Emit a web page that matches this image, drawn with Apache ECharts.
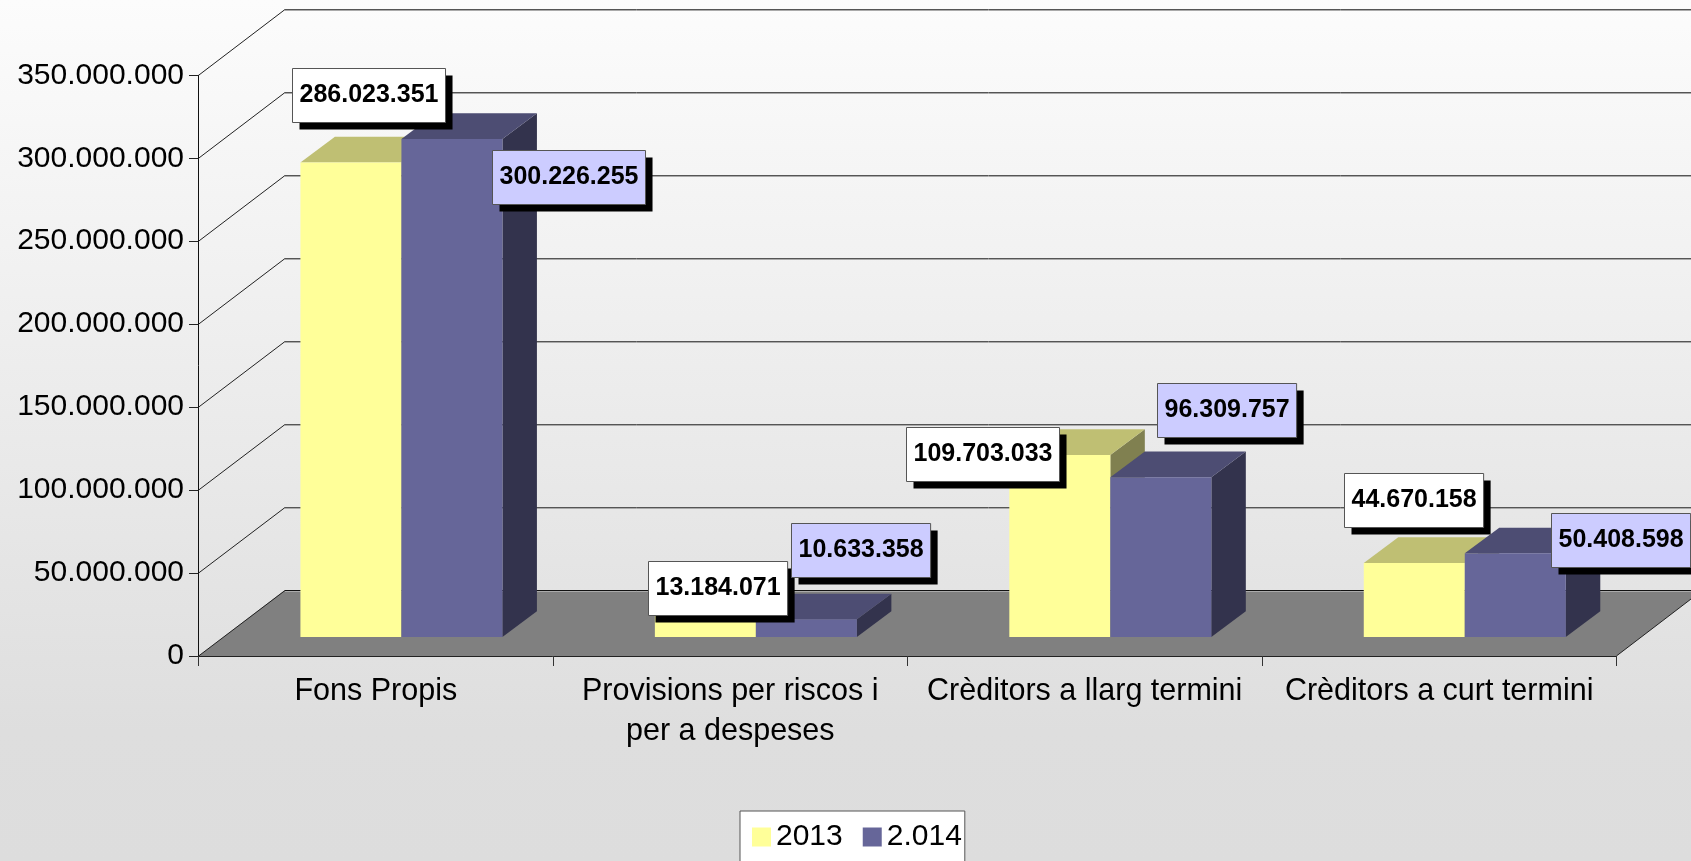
<!DOCTYPE html>
<html>
<head>
<meta charset="utf-8">
<style>html,body{margin:0;padding:0;background:#ddd}#c{width:1691px;height:861px}</style>
<script src="https://cdn.jsdelivr.net/npm/echarts@6/dist/echarts.min.js"></script>
</head>
<body>
<div id="c"></div>
<script>
const categories = ['Fons Propis', 'Provisions per riscos i\nper a despeses', 'Crèditors a llarg termini', 'Crèditors a curt termini'];
const values2013 = [286023351, 13184071, 109703033, 44670158];
const values2014 = [300226255, 10633358, 96309757, 50408598];
const yTicks = [0, 50000000, 100000000, 150000000, 200000000, 250000000, 300000000, 350000000];

// Manual callout placement relative to each bar's top-left front corner
const nudge2013 = [[-8.4, -94.5], [-7, -54.4], [-103.4, -28], [-19.8, -89.9]];
const nudge2014 = [[90.1, 11], [35.2, -96.4], [46.8, -94.5], [86.4, -40.4]];

const FONT = '"Liberation Sans", Arial, sans-serif';
const WALL_DX = 86.4, WALL_DY = 66;
const BAR_SHIFT_X = 25.6, BAR_SHIFT_Y = 19;
const BAR_W = 101, BAR_DX = 34.5, BAR_DY = 25.7;

const fmt = v => String(v).replace(/\B(?=(\d{3})+(?!\d))/g, '.');
const mctx = document.createElement('canvas').getContext('2d');
mctx.font = 'bold 25px ' + FONT;

function barGeom(api, cat, val, slot) {
  const top = api.coord([cat, val]);
  const base = api.coord([cat, 0]);
  const x0 = top[0] + BAR_SHIFT_X + (slot === 0 ? -BAR_W : 0);
  return { x0, x1: x0 + BAR_W, yTop: top[1] - BAR_SHIFT_Y, yBase: base[1] - BAR_SHIFT_Y };
}

function bar3d(colors, slot) {
  return function (params, api) {
    const g = barGeom(api, api.value(0), api.value(1), slot);
    const poly = (points, fill) => ({ type: 'polygon', shape: { points }, style: { fill, stroke: null } });
    return {
      type: 'group',
      children: [
        poly([[g.x1, g.yBase], [g.x1 + BAR_DX, g.yBase - BAR_DY], [g.x1 + BAR_DX, g.yTop - BAR_DY], [g.x1, g.yTop]], colors.side),
        poly([[g.x0, g.yTop], [g.x1, g.yTop], [g.x1 + BAR_DX, g.yTop - BAR_DY], [g.x0 + BAR_DX, g.yTop - BAR_DY]], colors.top),
        { type: 'rect', shape: { x: g.x0, y: g.yTop, width: BAR_W, height: g.yBase - g.yTop }, style: { fill: colors.front } }
      ]
    };
  };
}

function renderWalls(params, api) {
  const cs = params.coordSys;
  const v = api.value(1);
  const y = api.coord([0, v])[1];
  const x = cs.x, xr = cs.x + cs.width;
  const children = [];
  const line = (x1, y1, x2, y2, stroke, lineWidth) => ({
    type: 'line', shape: { x1, y1, x2, y2 }, style: { stroke, lineWidth, fill: null }
  });
  if (v === 0) {
    children.push({
      type: 'polygon',
      shape: { points: [[x, y], [x + WALL_DX, y - WALL_DY], [xr + WALL_DX, y - WALL_DY], [xr, y]] },
      style: { fill: '#808080', stroke: null }
    });
    children.push(line(xr, y, xr + WALL_DX, y - WALL_DY, '#222', 1));
  }
  const by = Math.round(y - WALL_DY) + 0.5;
  children.push(line(x, y, x + WALL_DX, by, '#222', 1));
  children.push(line(x + WALL_DX, by + 1, xr + WALL_DX, by + 1, '#aaa', 1));
  children.push(line(x + WALL_DX, by, xr + WALL_DX, by, v === 0 ? '#111' : '#555', 1));
  return { type: 'group', children };
}

function renderLabels(params, api) {
  const slot = api.value(2), cat = api.value(0), val = api.value(1);
  const g = barGeom(api, cat, val, slot);
  const n = (slot === 0 ? nudge2013 : nudge2014)[cat];
  const text = fmt(val);
  const w = mctx.measureText(text).width + 14;
  const h = 54;
  const bx = Math.round(g.x0 + n[0]) + 0.5, by = Math.round(g.yTop + n[1]) + 0.5;
  return {
    type: 'group',
    children: [
      { type: 'rect', shape: { x: bx + 7, y: by + 7, width: w, height: h }, style: { fill: '#000' } },
      { type: 'rect', shape: { x: bx, y: by, width: w, height: h },
        style: { fill: slot === 0 ? '#FFFFFF' : '#CCCCFF', stroke: '#555', lineWidth: 1 } },
      { type: 'text', style: { x: bx + w / 2, y: by + 27, text, fill: '#000', font: 'bold 25px ' + FONT, align: 'center', verticalAlign: 'middle' } }
    ]
  };
}

const chart = echarts.init(document.getElementById('c'), null, { renderer: 'canvas' });
chart.setOption({
  animation: false,
  backgroundColor: new echarts.graphic.LinearGradient(0, 0, 0, 1, [
    { offset: 0, color: '#FCFCFC' },
    { offset: 0.85, color: '#DEDEDE' },
    { offset: 1, color: '#DDDDDD' }
  ]),
  grid: { left: 198.6, top: 75.3, width: 1417.8, height: 580.7 },
  legend: {
    data: ['2013', '2.014'],
    left: 740, top: 811,
    padding: [11, 3, 30, 12],
    backgroundColor: '#fff', borderColor: '#555', borderWidth: 1, borderRadius: 0,
    icon: 'rect', itemWidth: 19, itemHeight: 19, itemGap: 20,
    textStyle: { fontFamily: FONT, fontSize: 30, color: '#000', padding: [0, 0, 12, 0] }
  },
  xAxis: {
    type: 'category', data: categories, z: 5,
    axisLine: { lineStyle: { color: '#222', width: 1 } },
    axisTick: { show: true, length: 10, lineStyle: { color: '#333' } },
    axisLabel: { interval: 0, margin: 16, fontFamily: FONT, fontSize: 30.5, lineHeight: 40, color: '#000' },
    splitLine: { show: false }
  },
  yAxis: {
    type: 'value', min: 0, max: 350000000, interval: 50000000, z: 5,
    axisLine: { show: true, lineStyle: { color: '#111', width: 1 } },
    axisTick: { show: true, length: 9.6, lineStyle: { color: '#222' } },
    axisLabel: { margin: 14.6, fontFamily: FONT, fontSize: 30, color: '#000', formatter: v => fmt(v) },
    splitLine: { show: false }
  },
  series: [
    { type: 'custom', name: 'walls', z: 1, silent: true, renderItem: renderWalls,
      encode: { x: 0, y: 1 }, data: yTicks.map(v => [0, v]) },
    { type: 'custom', name: '2013', z: 2, itemStyle: { color: '#FFFF99' },
      renderItem: bar3d({ front: '#FFFF99', top: '#BFBF73', side: '#808050' }, 0),
      encode: { x: 0, y: 1 }, data: values2013.map((v, i) => [i, v]) },
    { type: 'custom', name: '2.014', z: 3, itemStyle: { color: '#666699' },
      renderItem: bar3d({ front: '#666699', top: '#4D4D73', side: '#33334D' }, 1),
      encode: { x: 0, y: 1 }, data: values2014.map((v, i) => [i, v]) },
    { type: 'custom', name: 'labels', z: 10, renderItem: renderLabels,
      encode: { x: 0, y: 1 },
      data: values2013.map((v, i) => [i, v, 0]).concat(values2014.map((v, i) => [i, v, 1])) }
  ]
});
</script>
</body>
</html>
